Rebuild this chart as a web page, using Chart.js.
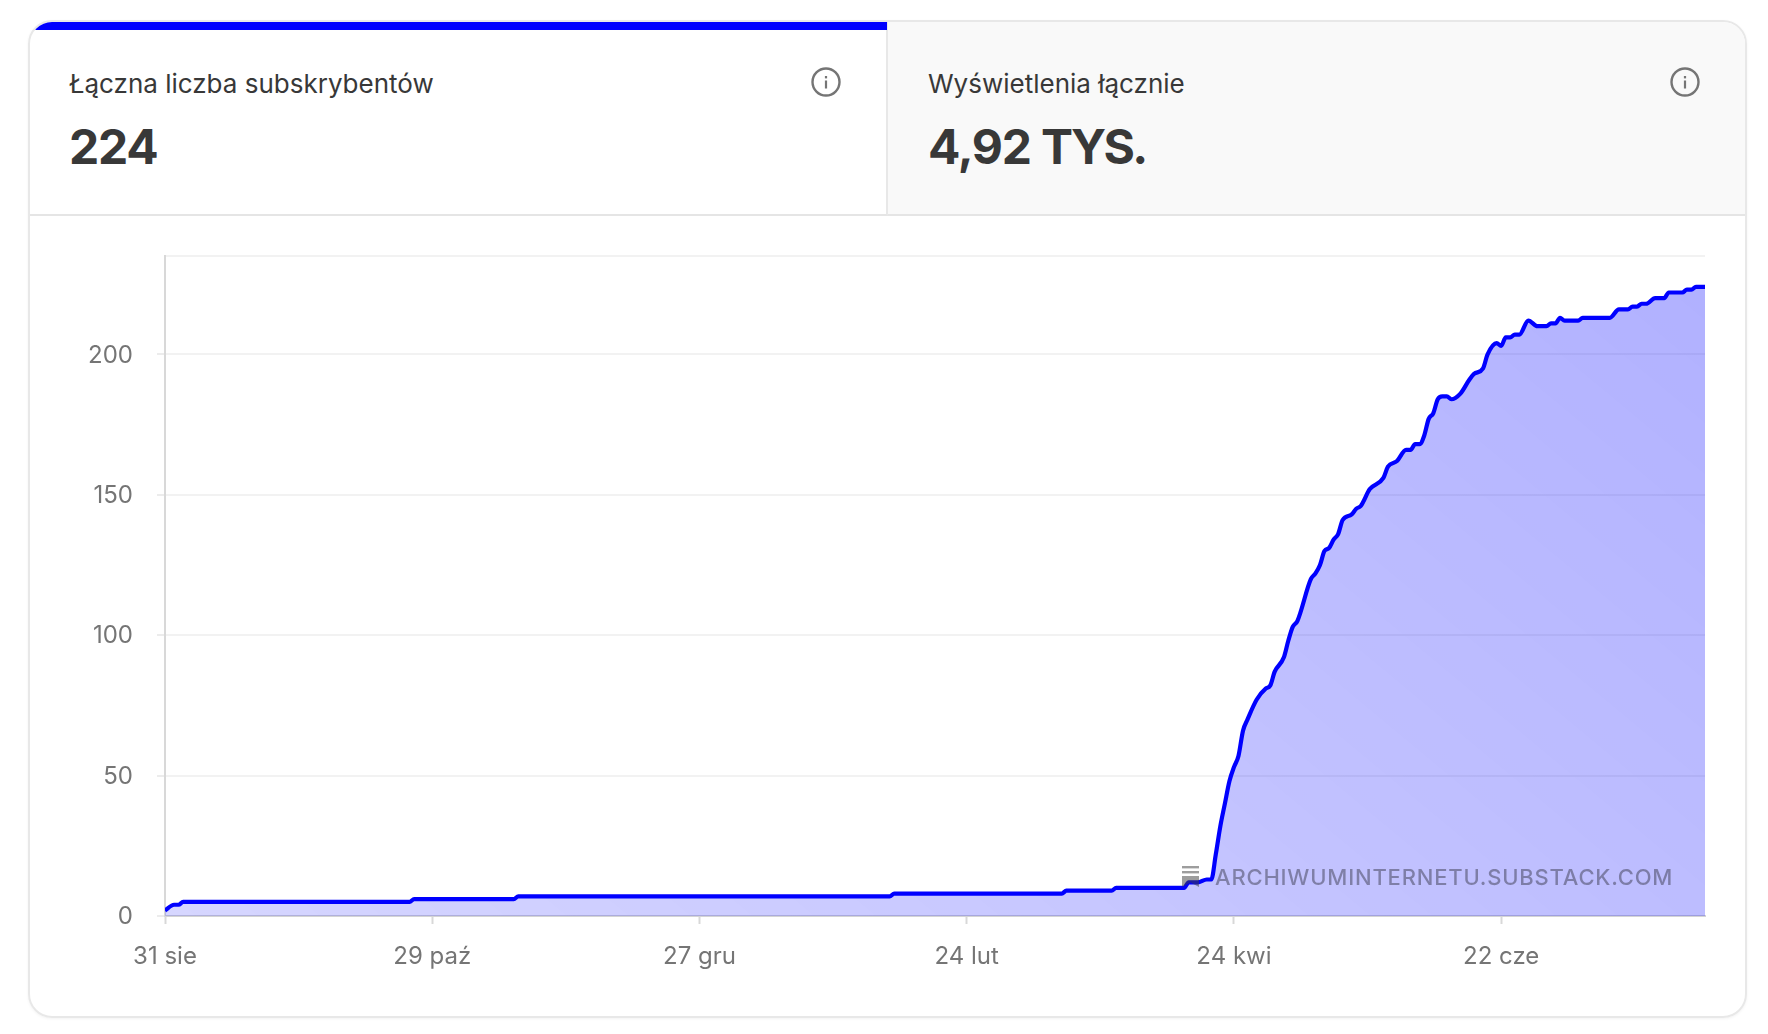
<!DOCTYPE html>
<html lang="pl">
<head>
<meta charset="utf-8">
<title>Subskrybenci</title>
<script src="https://cdn.jsdelivr.net/npm/chart.js@4"></script>
<style>
  html, body { margin: 0; padding: 0; background: #fff; }
  body { width: 1768px; height: 1034px; position: relative; overflow: hidden; font-family: Inter, sans-serif; color: #383838; }
  #card { position: absolute; left: 28px; top: 20px; width: 1719px; height: 998px; border: 2px solid #e8e8e8; border-radius: 24px; overflow: hidden; box-sizing: border-box; box-shadow: 0 1px 3px rgba(0,0,0,.05); }
  .tab { position: absolute; top: 0; height: 194px; border-bottom: 2px solid #e5e5e5; box-sizing: border-box; }
  #tabLeft { left: 0; width: 858px; border-right: 2px solid #e8e8e8; }
  #tabRight { left: 858px; right: 0; background: #f9f9f9; }
  #tabRight .label, #tabRight .value { left: 40px; }
  #tabBar { position: absolute; left: 0; top: 0; width: 857px; height: 8px; background: #0000ff; }
  .tab .label { position: absolute; left: 39px; top: 46px; font-size: 26px; line-height: 32px; white-space: nowrap; }
  .tab .value { position: absolute; left: 39px; top: 95px; font-size: 48px; line-height: 60px; font-weight: 700; letter-spacing: -1.2px; white-space: nowrap; }
  .tab .value span { letter-spacing: -2.6px; }
  .tab svg { position: absolute; right: 44px; top: 44px; }
  #chartBox { position: absolute; left: -2px; top: 194px; width: 1721px; height: 800px; }
  #watermark { position: absolute; left: 1215px; top: 862px; font-size: 22px; line-height: 30px; font-weight: 500; letter-spacing: .8px; color: rgba(60,60,80,.5); white-space: nowrap; }
  #wmIcon { position: absolute; left: 1182px; top: 866px; }
</style>
</head>
<body>
<div id="card">
  <div class="tab" id="tabLeft">
    <div id="tabBar"></div>
    <div class="label">Łączna liczba subskrybentów</div>
    <div class="value">224</div>
    <svg width="32" height="32" viewBox="0 0 32 32"><circle cx="16" cy="16" r="13.5" fill="none" stroke="#757575" stroke-width="2.4"/><rect x="14.9" y="14.5" width="2.2" height="8" fill="#757575"/><rect x="14.9" y="10" width="2.2" height="2.4" fill="#757575"/></svg>
  </div>
  <div class="tab" id="tabRight">
    <div class="label">Wyświetlenia łącznie</div>
    <div class="value">4,92 <span>TYS.</span></div>
    <svg width="32" height="32" viewBox="0 0 32 32"><circle cx="16" cy="16" r="13.5" fill="none" stroke="#757575" stroke-width="2.4"/><rect x="14.9" y="14.5" width="2.2" height="8" fill="#757575"/><rect x="14.9" y="10" width="2.2" height="2.4" fill="#757575"/></svg>
  </div>
  <div id="chartBox"><canvas id="subsChart"></canvas></div>
</div>
<svg id="wmIcon" width="18" height="22" viewBox="0 0 18 22"><g fill="rgba(60,60,60,.5)"><rect x="0" y="0" width="17" height="2.4"/><rect x="0" y="5" width="17" height="2.4"/><path d="M0 10H17V21L8.5 16.5L0 21Z"/></g></svg>
<div id="watermark">ARCHIWUMINTERNETU.SUBSTACK.COM</div>

<script>
// Dni od 31 sie i liczba subskrybentów
const days = [0, 2, 3, 4, 54, 55, 77, 78, 160, 161, 198, 199, 209, 210, 225, 226, 228, 230, 231, 232, 233, 234, 235, 236, 237, 238, 239, 241, 243, 244, 245, 247, 248, 249, 250, 253, 254, 255, 256, 257, 258, 259, 260, 262, 263, 264, 266, 269, 270, 272, 274, 275, 276, 277, 278, 279, 280, 281, 282, 283, 284, 286, 288, 289, 291, 292, 294, 295, 296, 297, 298, 299, 301, 303, 305, 306, 307, 308, 309, 312, 313, 319, 321, 323, 324, 325, 326, 327, 329, 331, 332, 335, 336, 337, 338, 340];
const subscribers = [2, 4, 4, 5, 5, 6, 6, 7, 7, 8, 8, 9, 9, 10, 10, 12, 12, 13, 13, 22, 32, 40, 48, 53, 57, 66, 70, 77, 81, 82, 87, 92, 98, 103, 105, 120, 122, 125, 130, 131, 134, 136, 141, 143, 145, 146, 152, 156, 160, 162, 166, 166, 168, 168, 171, 177, 179, 184, 185, 185, 184, 186, 191, 193, 195, 200, 204, 203, 206, 206, 207, 207, 212, 210, 210, 211, 211, 213, 212, 212, 213, 213, 216, 216, 217, 217, 218, 218, 220, 220, 222, 222, 223, 223, 224, 224];

// Etykiety osi
const tickDays = [0, 59, 118, 177, 236, 295];
const tickLabels = ["31 sie", "29 paź", "27 gru", "24 lut", "24 kwi", "22 cze"];
const yTicks = [0, 50, 100, 150, 200];
const yMax = 235;
const lastDay = 340;

const axisFont = { family: "Inter", size: 24 };

function fillGradient(context) {
  const area = context.chart.chartArea;
  if (!area) return "rgba(0,0,255,0.2)";
  const g = context.chart.ctx.createLinearGradient(area.left, area.bottom, area.left + 960, area.bottom - 1155);
  g.addColorStop(0, "rgba(0,0,255,0.16)");
  g.addColorStop(1, "rgba(0,0,255,0.31)");
  return g;
}

new Chart(document.getElementById("subsChart"), {
  type: "line",
  data: {
    datasets: [{
      data: days.map((d, i) => ({ x: d, y: subscribers[i] })),
      borderColor: "#0000ff",
      borderWidth: 4.2,
      backgroundColor: fillGradient,
      fill: "origin",
      pointRadius: 0,
      cubicInterpolationMode: "monotone"
    }]
  },
  options: {
    responsive: true,
    maintainAspectRatio: false,
    animation: false,
    layout: { padding: { top: 40, right: 44 } },
    plugins: { legend: { display: false }, tooltip: { enabled: false } },
    scales: {
      x: {
        type: "linear",
        min: 0,
        max: lastDay,
        afterBuildTicks: scale => { scale.ticks = tickDays.map(v => ({ value: v })); },
        afterFit: scale => { scale.height = 100; },
        ticks: {
          autoSkip: false,
          maxRotation: 0,
          padding: 18,
          color: "#757575",
          font: axisFont,
          callback: v => tickLabels[tickDays.indexOf(v)]
        },
        border: { color: "#d4d4d4", width: 2 },
        grid: { drawOnChartArea: false, tickLength: 8, tickWidth: 2, tickColor: "#d8d8d8" }
      },
      y: {
        min: 0,
        max: yMax,
        afterBuildTicks: scale => { scale.ticks = yTicks.concat(yMax).map(v => ({ value: v })); },
        afterFit: scale => { scale.width = 137; },
        ticks: {
          padding: 24,
          labelOffset: 1,
          color: "#757575",
          font: axisFont,
          callback: v => (yTicks.includes(v) ? v : "")
        },
        border: { color: "#d8d8d8", width: 2 },
        grid: { color: "#f2f2f2", lineWidth: 2, tickLength: 8, tickColor: ctx => (ctx.tick && ctx.tick.value === yMax ? "transparent" : "#ececec") }
      }
    }
  }
});
</script>
</body>
</html>
